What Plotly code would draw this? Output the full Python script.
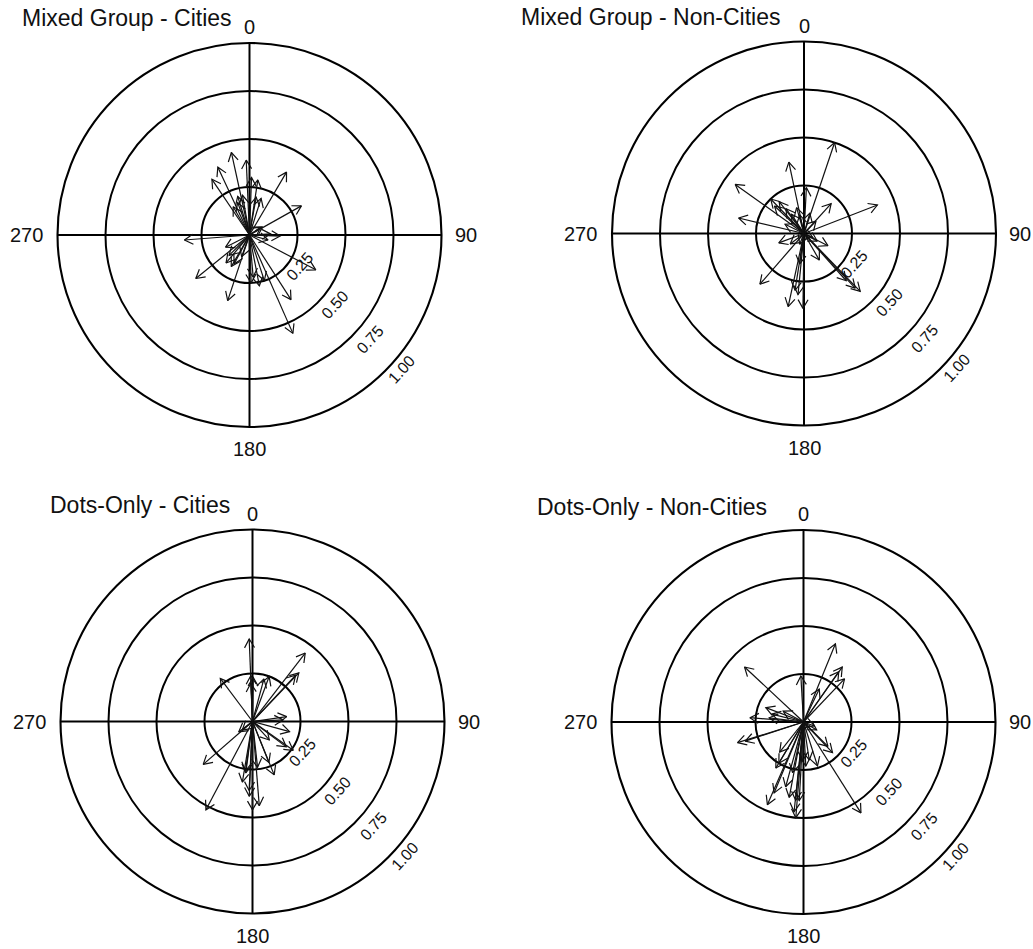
import math
import plotly.graph_objects as go

# ---------------- data (bearing in degrees clockwise from north, resultant length) ----------------
titles = ["Mixed Group - Cities", "Mixed Group - Non-Cities",
          "Dots-Only - Cities", "Dots-Only - Non-Cities"]

ring_values = [0.25, 0.50, 0.75, 1.00]
ring_labels = ["0.25", "0.50", "0.75", "1.00"]
angle_ticks = [0, 90, 180, 270]
angle_labels = ["0", "90", "180", "270"]

mixed_cities_angle = [347.6, 357.5, 335, 326, 30.5, 60.7, 8.6, 265.6, 92, 117.7, 231, 198.4,
                      156.2, 147.3, 169, 175, 210, 243, 208, 343, 10, 17.6, 350, 87, 58,
                      178, 225, 220, 162, 330, 340, 105, 2, 55, 200]
mixed_cities_length = [0.44, 0.39, 0.39, 0.35, 0.38, 0.31, 0.29, 0.34, 0.16, 0.39, 0.36, 0.36,
                       0.56, 0.40, 0.27, 0.22, 0.19, 0.14, 0.17, 0.21, 0.20, 0.20, 0.21, 0.11, 0.08,
                       0.25, 0.15, 0.19, 0.25, 0.17, 0.18, 0.10, 0.30, 0.07, 0.12]

mixed_noncities_angle = [18.6, 348, 305.5, 283.3, 68.8, 42.3, 3, 316, 322, 221, 192.2, 180.8,
                         185.6, 135.8, 136.8, 138.2, 117, 150, 249.7, 16, 327, 44, 296, 202,
                         114, 189, 347, 188, 120, 344, 324, 313, 233]
mixed_noncities_length = [0.50, 0.38, 0.44, 0.35, 0.41, 0.21, 0.24, 0.25, 0.21, 0.35, 0.39, 0.39,
                          0.32, 0.42, 0.39, 0.33, 0.14, 0.16, 0.14, 0.11, 0.12, 0.09, 0.11, 0.06,
                          0.05, 0.30, 0.10, 0.16, 0.08, 0.14, 0.16, 0.21, 0.09]

dots_cities_angle = [357.7, 37.6, 43.6, 42.9, 323.2, 358, 20.3, 15, 81.9, 105.3, 125.3, 126.9,
                     229, 207.8, 182.5, 175.4, 189.5, 157.9, 173.7, 158.2, 230, 182.8, 187.4,
                     233, 87, 357.5, 180, 137.7, 1, 188]
dots_cities_length = [0.43, 0.45, 0.35, 0.33, 0.28, 0.24, 0.25, 0.23, 0.18, 0.20, 0.26, 0.22,
                      0.34, 0.52, 0.39, 0.44, 0.32, 0.30, 0.24, 0.23, 0.07, 0.36, 0.27,
                      0.09, 0.16, 0.20, 0.46, 0.13, 0.23, 0.26]

dots_noncities_angle = [22.2, 313, 35.2, 43.6, 35, 356.7, 25.6, 290.8, 274.6, 252.6, 251.8, 283.9,
                        136.6, 147.7, 203.6, 202.5, 184.6, 183.1, 190.7, 210.9, 162.3, 135, 177,
                        195.4, 192.2, 121, 218.4, 185.7, 171.4, 110, 277, 298, 181, 186, 211]
dots_noncities_length = [0.44, 0.42, 0.35, 0.31, 0.32, 0.24, 0.19, 0.21, 0.28, 0.36, 0.32, 0.17,
                         0.22, 0.56, 0.47, 0.40, 0.50, 0.41, 0.40, 0.25, 0.24, 0.18, 0.23,
                         0.35, 0.27, 0.08, 0.20, 0.41, 0.20, 0.06, 0.18, 0.12, 0.20, 0.47, 0.28]

panel_angles = [mixed_cities_angle, mixed_noncities_angle, dots_cities_angle, dots_noncities_angle]
panel_lengths = [mixed_cities_length, mixed_noncities_length, dots_cities_length, dots_noncities_length]

# ---------------- layout geometry (pixels) ----------------
W, H = 1033, 949
R = 192
centers = [(249.5, 235.0), (804.0, 233.5), (252.5, 721.5), (803.5, 722.0)]
title_pos = [(20, 18), (519, 17), (48, 505), (535, 507)]
radial_label_pos = [(122, 59), (129, 110), (131, 160), (131.5, 203)]  # (bearing, px from centre)
# angular label placement: (px beyond circle, xanchor, yanchor)
angle_label_place = {0: (16, "center", "middle"), 90: (11, "left", "middle"),
                     180: (22, "center", "middle"), 270: (13, "right", "middle")}

FONT = "Liberation Sans, Arial, Helvetica, sans-serif"
INK = "#111111"
HEAD = 10.0 / R      # arrowhead length in data units
SPREAD = 30.0        # arrowhead half angle


def arrow_path(angles, lengths):
    th, rr = [], []
    for a, L in zip(angles, lengths):
        ar = math.radians(a)
        tx, ty = L * math.sin(ar), L * math.cos(ar)
        th += [a, a, None]
        rr += [0, L, None]
        pts = []
        for s in (SPREAD, -SPREAD):
            b = math.radians(a + 180 + s)
            hx, hy = tx + HEAD * math.sin(b), ty + HEAD * math.cos(b)
            pts.append((math.degrees(math.atan2(hx, hy)) % 360, math.hypot(hx, hy)))
        th += [pts[0][0], a, pts[1][0], None]
        rr += [pts[0][1], L, pts[1][1], None]
    return th, rr


fig = go.Figure()
annotations = []
layout_polars = {}

for i in range(4):
    cx, cy = centers[i]
    name = "polar" if i == 0 else f"polar{i + 1}"
    th, rr = arrow_path(panel_angles[i], panel_lengths[i])
    fig.add_trace(go.Scatterpolar(theta=th, r=rr, mode="lines",
                                  line=dict(color=INK, width=1.2),
                                  subplot=name, hoverinfo="skip", showlegend=False))
    layout_polars[name] = dict(
        domain=dict(x=[(cx - R) / W, (cx + R) / W],
                    y=[(H - cy - R) / H, (H - cy + R) / H]),
        bgcolor="white",
        angularaxis=dict(rotation=90, direction="clockwise",
                         tickmode="array", tickvals=angle_ticks, ticktext=angle_labels,
                         showticklabels=False, ticks="",
                         showgrid=True, gridcolor="black", gridwidth=1.6,
                         showline=True, linecolor="black", linewidth=2.1),
        radialaxis=dict(range=[0, 1], tickmode="array", tickvals=ring_values,
                        showticklabels=False, showline=False, ticks="",
                        showgrid=True, gridcolor="black", gridwidth=1.6),
    )
    tx, ty = title_pos[i]
    annotations.append(dict(text=titles[i], x=tx / W, y=(H - ty) / H, xref="paper", yref="paper",
                            xanchor="left", yanchor="middle", showarrow=False,
                            font=dict(family=FONT, size=23, color=INK)))
    # angular tick labels
    for a, lab in zip(angle_ticks, angle_labels):
        off, xa, ya = angle_label_place[a]
        ar = math.radians(a)
        px = cx + (R + off) * math.sin(ar)
        py = cy - (R + off) * math.cos(ar)
        annotations.append(dict(text=lab, x=px / W, y=(H - py) / H, xref="paper", yref="paper",
                                xanchor=xa, yanchor=ya, showarrow=False,
                                font=dict(family=FONT, size=20, color=INK)))
    # radial tick labels
    for lab, (b, d) in zip(ring_labels, radial_label_pos):
        br = math.radians(b)
        px = cx + d * math.sin(br)
        py = cy - d * math.cos(br)
        annotations.append(dict(text=lab, x=px / W, y=(H - py) / H, xref="paper", yref="paper",
                                xanchor="center", yanchor="middle", showarrow=False,
                                textangle=-48, font=dict(family=FONT, size=16, color=INK)))

fig.update_layout(width=W, height=H, margin=dict(l=0, r=0, t=0, b=0),
                  paper_bgcolor="white", plot_bgcolor="white",
                  showlegend=False, annotations=annotations, **layout_polars)

fig.write_html("out.html", config={"displayModeBar": False},
               post_script="document.body.style.margin='0';document.body.style.overflow='hidden';")
